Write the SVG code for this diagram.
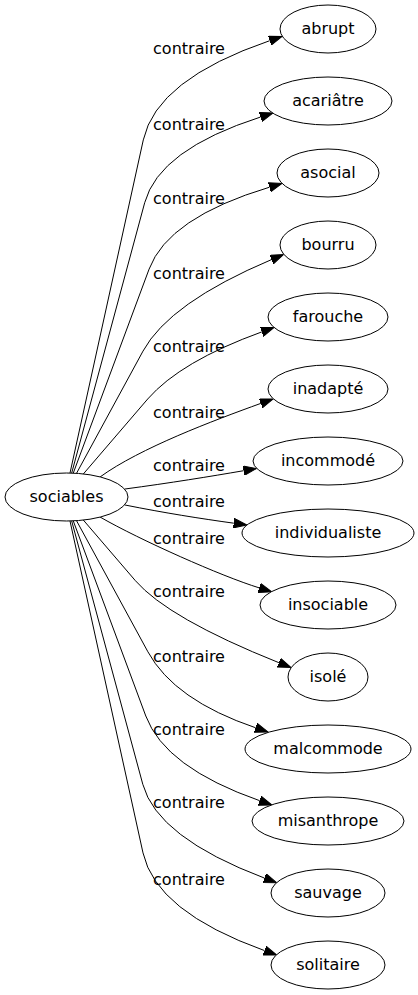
<svg xmlns="http://www.w3.org/2000/svg" width="418" height="995" viewBox="0 0 418 995">
<defs>
<style>
.n ellipse{fill:#fff;stroke:#000;stroke-width:1}
.n text{font-family:"DejaVu Sans",sans-serif;font-size:16px;text-anchor:middle;fill:#000}
.e path{fill:none;stroke:#000;stroke-width:1;marker-end:url(#ah)}
.lbl{font-family:"DejaVu Sans",sans-serif;font-size:16px;text-anchor:middle;fill:#000}
</style>
<marker id="ah" markerUnits="userSpaceOnUse" markerWidth="14" markerHeight="10" viewBox="0 0 14 10" refX="0" refY="5" orient="auto"><path d="M0,0.3 L13,5 L0,9.7 z" fill="#000" stroke="#000" stroke-width="1"/></marker>
</defs>
<rect width="418" height="995" fill="#fff"/>
<g id="edges" class="e">
<path d="M70,473 L143.3,139.9 Q156.6,79.3 269.7,40.7"/>
<path d="M71.7,473 L144.7,202.7 Q159,149.6 260.6,117"/>
<path d="M73.3,473 L149.1,269.1 Q168.2,217.6 269.5,187.2"/>
<path d="M76.7,473 L143,351.1 Q169.3,302.8 271.5,259.6"/>
<path d="M83.3,474 L147.7,399 Q180.6,361.3 261.8,331.9"/>
<path d="M100,477 C140,448 213.8,420.4 260.8,403.4"/>
<path d="M125,489 C170,483 210,476.5 243.7,470.7"/>
<path d="M125,505 C165,513 200,518.5 233.8,523.2"/>
<path d="M100,517 C140,540 221.1,576.1 259.3,587.9"/>
<path d="M83.3,520 L135.4,580.7 Q168.2,618.4 278.9,662.7"/>
<path d="M76.7,521 L147.9,651.8 Q174.2,700.1 255.7,727.8"/>
<path d="M73.3,521 L145.8,716 Q164.9,767.5 259.7,800.7"/>
<path d="M71.7,521 L142.8,784.3 Q157.1,837.4 264.5,878.1"/>
<path d="M70,521 L143,852.9 Q155.9,911.5 264.5,950.6"/>
</g>
<g id="labels">
<text class="lbl" x="189" y="54">contraire</text>
<text class="lbl" x="189" y="130">contraire</text>
<text class="lbl" x="189" y="204">contraire</text>
<text class="lbl" x="189" y="279">contraire</text>
<text class="lbl" x="189" y="352">contraire</text>
<text class="lbl" x="189" y="418">contraire</text>
<text class="lbl" x="189" y="471">contraire</text>
<text class="lbl" x="189" y="507">contraire</text>
<text class="lbl" x="189" y="544">contraire</text>
<text class="lbl" x="189" y="597">contraire</text>
<text class="lbl" x="189" y="662">contraire</text>
<text class="lbl" x="189" y="735">contraire</text>
<text class="lbl" x="189" y="808">contraire</text>
<text class="lbl" x="189" y="885">contraire</text>
</g>
<g id="sociables" class="n"><ellipse cx="66.5" cy="497" rx="61.5" ry="24"/><text x="66.5" y="502">sociables</text></g>
<g id="abrupt" class="n"><ellipse cx="328" cy="29" rx="48" ry="24"/><text x="328" y="34">abrupt</text></g>
<g id="acariatre" class="n"><ellipse cx="328" cy="101" rx="64" ry="24"/><text x="328" y="106">acariâtre</text></g>
<g id="asocial" class="n"><ellipse cx="328" cy="173" rx="51" ry="24"/><text x="328" y="178">asocial</text></g>
<g id="bourru" class="n"><ellipse cx="328" cy="245" rx="48" ry="24"/><text x="328" y="250">bourru</text></g>
<g id="farouche" class="n"><ellipse cx="328" cy="317" rx="60" ry="24"/><text x="328" y="322">farouche</text></g>
<g id="inadapte" class="n"><ellipse cx="328" cy="389" rx="60" ry="24"/><text x="328" y="394">inadapté</text></g>
<g id="incommode" class="n"><ellipse cx="328" cy="461" rx="75" ry="24"/><text x="328" y="466">incommodé</text></g>
<g id="individualiste" class="n"><ellipse cx="328" cy="533" rx="86" ry="24"/><text x="328" y="538">individualiste</text></g>
<g id="insociable" class="n"><ellipse cx="328" cy="605" rx="68" ry="24"/><text x="328" y="610">insociable</text></g>
<g id="isole" class="n"><ellipse cx="328" cy="677" rx="40" ry="24"/><text x="328" y="682">isolé</text></g>
<g id="malcommode" class="n"><ellipse cx="328" cy="749" rx="83" ry="24"/><text x="328" y="754">malcommode</text></g>
<g id="misanthrope" class="n"><ellipse cx="328" cy="821" rx="76" ry="24"/><text x="328" y="826">misanthrope</text></g>
<g id="sauvage" class="n"><ellipse cx="328" cy="893" rx="57" ry="24"/><text x="328" y="898">sauvage</text></g>
<g id="solitaire" class="n"><ellipse cx="328" cy="965" rx="57" ry="24"/><text x="328" y="970">solitaire</text></g>
</svg>
